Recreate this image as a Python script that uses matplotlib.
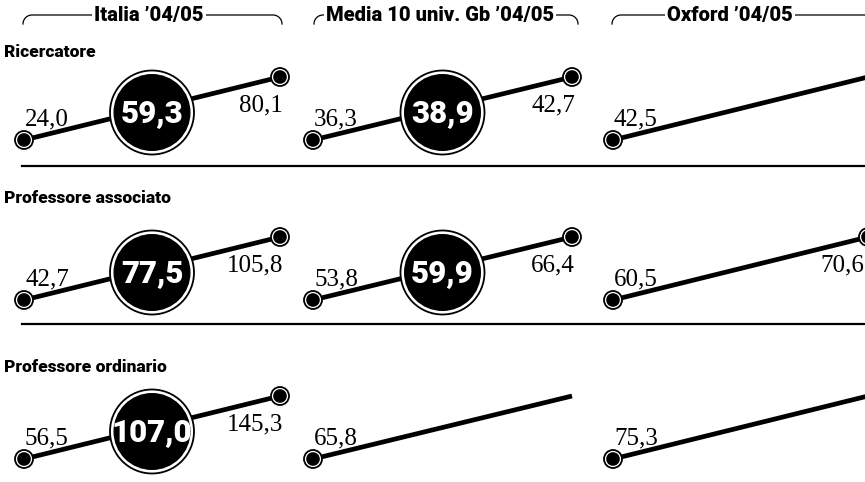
import numpy as np
import matplotlib.pyplot as plt
from matplotlib.patches import Circle

# gruppi (colonne) e ruoli (righe)
groups = ["Italia ’04/05", "Media 10 univ. Gb ’04/05", "Oxford ’04/05"]
roles = ["Ricercatore", "Professore associato", "Professore ordinario"]

# stipendio minimo, medio, massimo (migliaia di euro); None = non visibile
italia_min = [24.0, 42.7, 56.5]
italia_media = [59.3, 77.5, 107.0]
italia_max = [80.1, 105.8, 145.3]

gb_min = [36.3, 53.8, 65.8]
gb_media = [38.9, 59.9, None]
gb_max = [42.7, 66.4, None]

oxford_min = [42.5, 60.5, 75.3]
oxford_media = [None, None, None]
oxford_max = [None, 70.6, None]

mins = [italia_min, gb_min, oxford_min]
medie = [italia_media, gb_media, oxford_media]
maxs = [italia_max, gb_max, oxford_max]

# layout (pixel)
W, H = 865, 482
col_left = [24, 313, 613]
col_right = [280, 572, 868]
row_low = [140, 300, 459]
row_high = [77, 237, 396]
row_title_y = [57, 203, 372]
sep_y = [166, 324]
brackets = [(23, 282), (314, 578), (612, 880)]
header_x = [149, 440, 730]

SANS = ['Roboto', 'DejaVu Sans']
SERIF = ['Liberation Serif', 'DejaVu Serif']


def fmt(v):
    return f"{v:.1f}".replace('.', ',')


def small_dot(ax, x, y):
    ax.add_patch(Circle((x, y), 9, fc='white', ec='black', lw=1.3, zorder=3))
    ax.add_patch(Circle((x, y), 6.8, fc='black', ec='none', zorder=4))


def bracket(ax, x0, x1, y=15, r=9):
    t = np.linspace(0, np.pi / 2, 20)
    xl = x0 + r - r * np.cos(t)
    yl = y + r - r * np.sin(t)
    xr = x1 - r + r * np.cos(t[::-1])
    yr = y + r - r * np.sin(t[::-1])
    ax.plot(np.r_[xl, xr], np.r_[yl, yr], color='black', lw=0.9, zorder=1)


fig = plt.figure(figsize=(W / 100, H / 100), dpi=100)
ax = fig.add_axes([0, 0, 1, 1])
ax.set_xlim(0, W)
ax.set_ylim(H, 0)
ax.axis('off')

# intestazioni colonne
for g, (b0, b1), hx in zip(groups, brackets, header_x):
    bracket(ax, b0, b1)
    ax.text(hx, 15, g, ha='center', va='center', fontsize=14.5, fontweight='black',
            family=SANS, zorder=2,
            bbox=dict(fc='white', ec='none', pad=1.5))

# separatori
for y in sep_y:
    ax.plot([22, W], [y, y], color='black', lw=1.6)

for i, role in enumerate(roles):
    ax.text(4, row_title_y[i], role, ha='left', va='baseline', fontsize=12.5,
            fontweight='black', family=SANS)
    for j in range(3):
        x0, x1 = col_left[j], col_right[j]
        y0, y1 = row_low[i], row_high[i]
        ax.plot([x0, x1], [y0, y1], color='black', lw=3.4, solid_capstyle='butt', zorder=2)
        small_dot(ax, x0, y0)
        ax.text(x0 + 1, y0 - 15, fmt(mins[j][i]), ha='left', va='baseline',
                fontsize=18, family=SERIF, zorder=5)
        if maxs[j][i] is not None:
            small_dot(ax, x1, y1)
            ax.text(min(x1 + 3, W - 1), y1 + 34, fmt(maxs[j][i]), ha='right', va='baseline',
                    fontsize=18, family=SERIF, zorder=5)
        if medie[j][i] is not None:
            cx = (x0 + x1) / 2
            cy = (y0 + y1) / 2 + 4
            ax.add_patch(Circle((cx, cy), 42, fc='white', ec='black', lw=1.3, zorder=3))
            ax.add_patch(Circle((cx, cy), 38.5, fc='black', ec='none', zorder=4))
            ax.text(cx, cy + 1, fmt(medie[j][i]), ha='center', va='center',
                    fontsize=22.5, fontweight='black', color='white', family=SANS, zorder=5)

fig.savefig('out.png', dpi=100)
